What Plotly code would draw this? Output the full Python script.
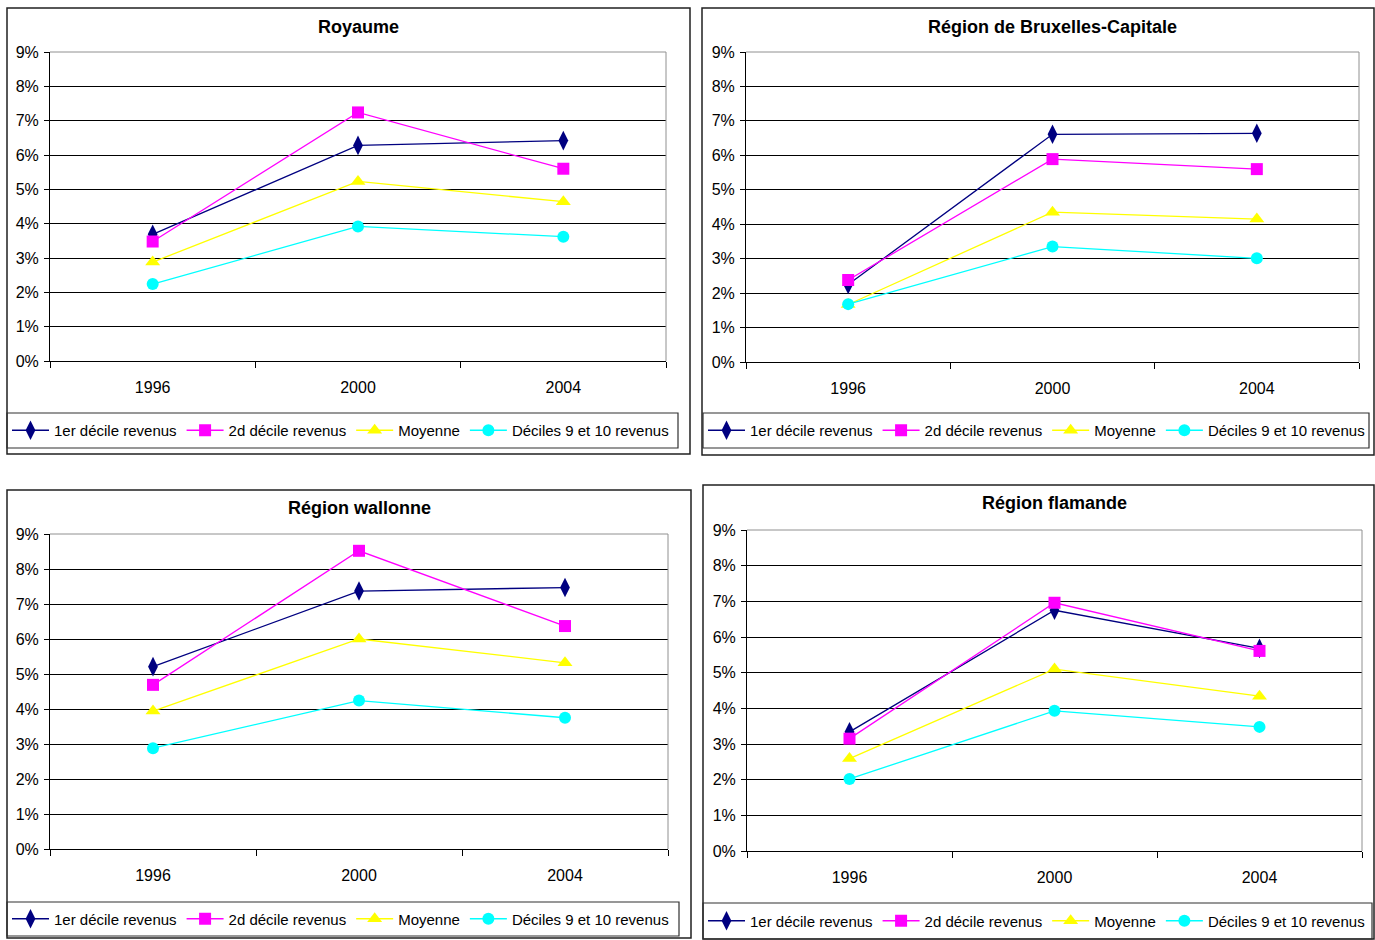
import plotly.graph_objects as go

W, H = 1375, 940

years = ["1996", "2000", "2004"]
series_names = ["1er décile revenus", "2d décile revenus", "Moyenne", "Déciles 9 et 10 revenus"]
panel_titles = ["Royaume", "Région de Bruxelles-Capitale", "Région wallonne", "Région flamande"]

royaume = [
    [0.0369, 0.0628, 0.0642],
    [0.0348, 0.0724, 0.0560],
    [0.0288, 0.0523, 0.0464],
    [0.0224, 0.0392, 0.0362],
]
bruxelles = [
    [0.0225, 0.0661, 0.0664],
    [0.0238, 0.0589, 0.0560],
    [0.0167, 0.0435, 0.0415],
    [0.0168, 0.0335, 0.0301],
]
wallonne = [
    [0.0521, 0.0737, 0.0747],
    [0.0469, 0.0852, 0.0637],
    [0.0394, 0.0600, 0.0532],
    [0.0288, 0.0424, 0.0375],
]
flamande = [
    [0.0334, 0.0675, 0.0568],
    [0.0315, 0.0696, 0.0561],
    [0.0259, 0.0510, 0.0434],
    [0.0202, 0.0393, 0.0348],
]
panel_data = [royaume, bruxelles, wallonne, flamande]

colors = ["#000080", "#FF00FF", "#FFFF00", "#00FFFF"]
symbols = ["diamond-tall", "square", "triangle-up", "circle"]
msizes = [14, 12, 13, 12]

# layout geometry in pixels: plot area (x0, x1, ytop, ybottom), outer box, legend box
plots = [(50, 666, 52, 361), (746, 1359, 52, 362), (50, 668, 534, 849), (747, 1362, 530, 851)]
outer = [(7, 690, 8, 454), (702, 1374, 8, 455), (7, 691, 490, 938), (703, 1374, 485, 939)]
legbox = [(7, 678, 413, 448), (703, 1369, 413, 448), (7, 679, 902, 936), (703, 1372, 903, 939)]
title_y = [27, 27, 508, 503]

def px(x):
    return x / W

def py(y):
    return 1 - y / H

FONT = "Liberation Sans, Arial, sans-serif"

fig = go.Figure()
layout = dict(
    width=W, height=H,
    margin=dict(l=0, r=0, t=0, b=0, autoexpand=False),
    paper_bgcolor="white", plot_bgcolor="white",
    font=dict(family=FONT, size=15, color="black"),
    shapes=[], annotations=[],
)

for i, data in enumerate(panel_data):
    k = "" if i == 0 else str(i + 1)
    xa, ya = "x" + k, "y" + k
    leg = "legend" + k
    for j, name in enumerate(series_names):
        fig.add_trace(go.Scatter(
            x=years, y=data[j], name=name, mode="lines+markers",
            line=dict(color=colors[j], width=1.3),
            marker=dict(symbol=symbols[j], size=msizes[j], color=colors[j]),
            xaxis=xa, yaxis=ya, legend=leg,
        ))
    x0, x1, yt, yb = plots[i]
    layout["xaxis" + k] = dict(
        domain=[px(x0), px(x1)], anchor=ya, type="category",
        range=[-0.5, 2.5], tickson="boundaries", ticks="outside", ticklen=6,
        tickcolor="black", showline=True, linecolor="black", linewidth=1,
        showgrid=False, ticklabelstandoff=12, tickfont=dict(size=16),
        fixedrange=True,
    )
    layout["yaxis" + k] = dict(
        domain=[py(yb), py(yt)], anchor=xa, range=[0, 0.09], dtick=0.01,
        tickformat=".0%", ticks="outside", ticklen=5, tickcolor="black",
        showline=True, linecolor="black", linewidth=1,
        showgrid=True, gridcolor="black", gridwidth=1, zeroline=False,
        tickfont=dict(size=16), ticklabelstandoff=2, fixedrange=True,
    )
    # gray top/right border of plot area
    layout["shapes"].append(dict(type="line", xref=xa + " domain", yref=ya + " domain",
                                 x0=0, x1=1, y0=1, y1=1, line=dict(color="#909090", width=1)))
    layout["shapes"].append(dict(type="line", xref=xa + " domain", yref=ya + " domain",
                                 x0=1, x1=1, y0=0, y1=1, line=dict(color="#909090", width=1)))
    # outer panel box
    ox0, ox1, oy0, oy1 = outer[i]
    layout["shapes"].append(dict(type="rect", xref="paper", yref="paper",
                                 x0=px(ox0), x1=px(ox1), y0=py(oy1), y1=py(oy0),
                                 line=dict(color="#202020", width=1.5), layer="below"))
    # legend box
    lx0, lx1, ly0, ly1 = legbox[i]
    layout["shapes"].append(dict(type="rect", xref="paper", yref="paper",
                                 x0=px(lx0), x1=px(lx1), y0=py(ly1), y1=py(ly0),
                                 line=dict(color="#303030", width=1.2), layer="below"))
    layout[leg] = dict(
        orientation="h", x=px(lx0), xanchor="left",
        y=py((ly0 + ly1) / 2), yanchor="middle",
        bgcolor="rgba(0,0,0,0)", borderwidth=0,
        font=dict(family=FONT, size=15, color="black"),
        itemwidth=37, itemclick=False, itemdoubleclick=False,
        tracegroupgap=0,
    )
    layout["annotations"].append(dict(
        text="<b>" + panel_titles[i] + "</b>", xref="paper", yref="paper",
        x=px((x0 + x1) / 2), y=py(title_y[i]), xanchor="center", yanchor="middle",
        showarrow=False, font=dict(family=FONT, size=18, color="black"),
    ))

fig.update_layout(**layout)
fig.write_html(
    "out.html",
    config={"displayModeBar": False},
    post_script="document.body.style.margin='0';document.body.style.overflow='hidden';",
)
